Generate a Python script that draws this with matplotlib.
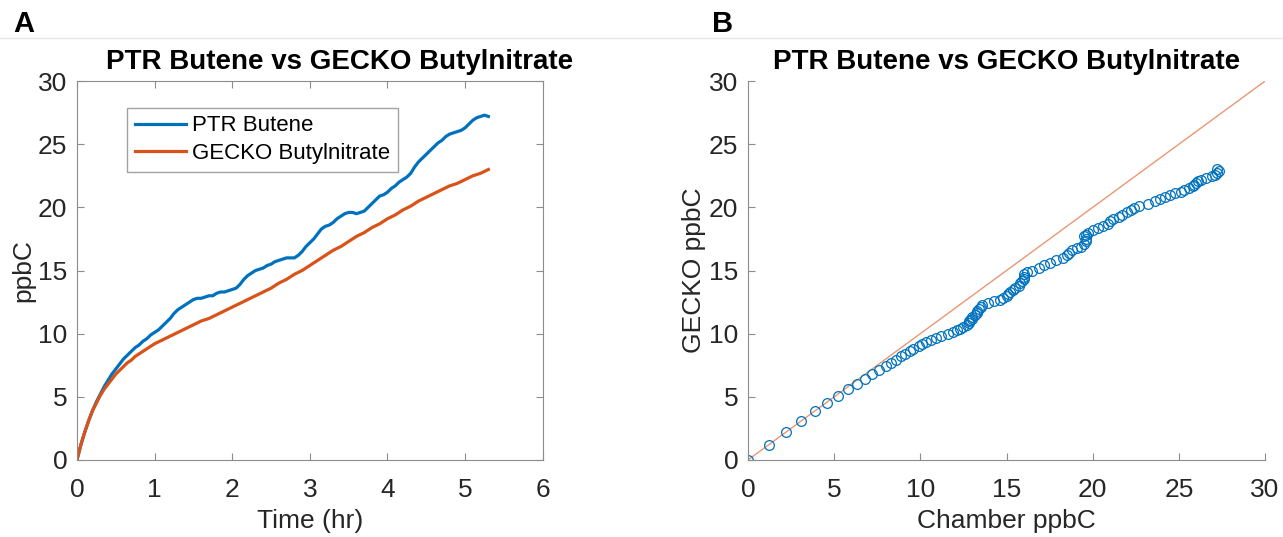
import matplotlib
matplotlib.use('Agg')
import matplotlib.pyplot as plt
from matplotlib.lines import Line2D

plt.rcParams['font.family'] = ['Liberation Sans', 'DejaVu Sans']

time_hr = [round(0.05 * i, 2) for i in range(107)]
ptr_butene = [0.0, 1.2, 2.2, 3.1, 3.9, 4.6, 5.2, 5.8, 6.3, 6.8,
              7.2, 7.6, 8.0, 8.3, 8.6, 8.9, 9.1, 9.4, 9.6, 9.9,
              10.1, 10.3, 10.6, 10.9, 11.2, 11.6, 11.9, 12.1, 12.3, 12.5,
              12.7, 12.8, 12.8, 12.9, 13.0, 13.0, 13.2, 13.3, 13.3, 13.4,
              13.5, 13.6, 13.9, 14.3, 14.6, 14.8, 15.0, 15.1, 15.2, 15.4,
              15.5, 15.7, 15.8, 15.9, 16.0, 16.0, 16.0, 16.2, 16.5, 16.9,
              17.2, 17.5, 17.9, 18.3, 18.5, 18.6, 18.8, 19.1, 19.3, 19.5,
              19.6, 19.6, 19.5, 19.6, 19.7, 20.0, 20.3, 20.6, 20.9, 21.0,
              21.2, 21.5, 21.7, 22.0, 22.2, 22.4, 22.7, 23.2, 23.6, 23.9,
              24.2, 24.5, 24.8, 25.1, 25.3, 25.6, 25.8, 25.9, 26.0, 26.1,
              26.3, 26.6, 26.9, 27.1, 27.2, 27.3, 27.2]
gecko_butylnitrate = [0.0, 1.2, 2.2, 3.1, 3.9, 4.5, 5.1, 5.6, 6.0, 6.4,
                      6.8, 7.1, 7.4, 7.7, 7.9, 8.2, 8.4, 8.6, 8.8, 9.0,
                      9.2, 9.35, 9.5, 9.65, 9.8, 9.95, 10.1, 10.25, 10.4, 10.55,
                      10.7, 10.85, 11.0, 11.1, 11.2, 11.35, 11.5, 11.65, 11.8, 11.95,
                      12.1, 12.25, 12.4, 12.55, 12.7, 12.85, 13.0, 13.15, 13.3, 13.45,
                      13.6, 13.8, 14.0, 14.15, 14.3, 14.5, 14.7, 14.85, 15.0, 15.2,
                      15.4, 15.6, 15.8, 16.0, 16.2, 16.4, 16.6, 16.75, 16.9, 17.1,
                      17.3, 17.5, 17.7, 17.85, 18.0, 18.2, 18.4, 18.55, 18.7, 18.9,
                      19.1, 19.25, 19.4, 19.6, 19.8, 19.95, 20.1, 20.3, 20.5, 20.65,
                      20.8, 20.95, 21.1, 21.25, 21.4, 21.55, 21.7, 21.8, 21.9, 22.05,
                      22.2, 22.35, 22.5, 22.6, 22.7, 22.85, 23.0]
one_to_one = [0, 30]

blue = '#0072BD'
orange = '#D95319'
axis_grey = '#8c8c8c'
text_dark = '#262626'
title = 'PTR Butene vs GECKO Butylnitrate'

fig = plt.figure(figsize=(12.83, 5.37), dpi=100)
fig.add_artist(Line2D([0, 1], [0.929, 0.929], color='#e6e6e6', lw=1))
fig.text(0.010, 0.955, 'A', fontsize=21, fontweight='bold', va='center')
fig.text(0.555, 0.955, 'B', fontsize=21, fontweight='bold', va='center')

axA = fig.add_axes([0.060, 0.1435, 0.363, 0.7055])
axB = fig.add_axes([0.583, 0.1435, 0.403, 0.7055])

# panel A: time series
axA.plot(time_hr, ptr_butene, color=blue, lw=2.3, label='PTR Butene')
axA.plot(time_hr, gecko_butylnitrate, color=orange, lw=2.3, label='GECKO Butylnitrate')
axA.set_xlim(0, 6)
axA.set_ylim(0, 30)
axA.set_xticks(range(0, 7))
axA.set_yticks(range(0, 31, 5))
axA.set_xlabel('Time (hr)', fontsize=19, color=text_dark, labelpad=5)
axA.set_ylabel('ppbC', fontsize=19, color=text_dark, labelpad=2)
axA.set_title(title, fontsize=20, fontweight='bold', pad=9, x=0.564)
leg = axA.legend(loc='upper left', bbox_to_anchor=(0.107, 0.93), borderaxespad=0,
                 fontsize=16, frameon=True, fancybox=False, edgecolor=axis_grey,
                 handlelength=2.3, borderpad=0.35, labelspacing=0.3, handletextpad=0.3)
leg.get_frame().set_linewidth(1.0)
axA.tick_params(axis='x', pad=13)
axA.tick_params(axis='y', pad=7)
axA.tick_params(direction='in', top=True, right=True, length=5, color=axis_grey,
                labelsize=19, labelcolor=text_dark)
for s in axA.spines.values():
    s.set_color(axis_grey)

# panel B: scatter vs chamber
axB.plot(one_to_one, one_to_one, color=orange, lw=1.0, alpha=0.6)
axB.plot(ptr_butene, gecko_butylnitrate, 'o', mfc='none', mec=blue, ms=7, mew=0.9)
axB.set_xlim(0, 30)
axB.set_ylim(0, 30)
axB.set_xticks(range(0, 31, 5))
axB.set_yticks(range(0, 31, 5))
axB.set_xlabel('Chamber ppbC', fontsize=19, color=text_dark, labelpad=5)
axB.set_ylabel('GECKO ppbC', fontsize=19, color=text_dark, labelpad=2)
axB.set_title(title, fontsize=20, fontweight='bold', pad=9)
axB.spines['top'].set_visible(False)
axB.spines['right'].set_visible(False)
axB.tick_params(axis='x', pad=13)
axB.tick_params(axis='y', pad=7)
axB.tick_params(direction='in', length=5, color=axis_grey,
                labelsize=19, labelcolor=text_dark)
for s in axB.spines.values():
    s.set_color(axis_grey)

plt.savefig('out.png', dpi=100)
plt.close()
